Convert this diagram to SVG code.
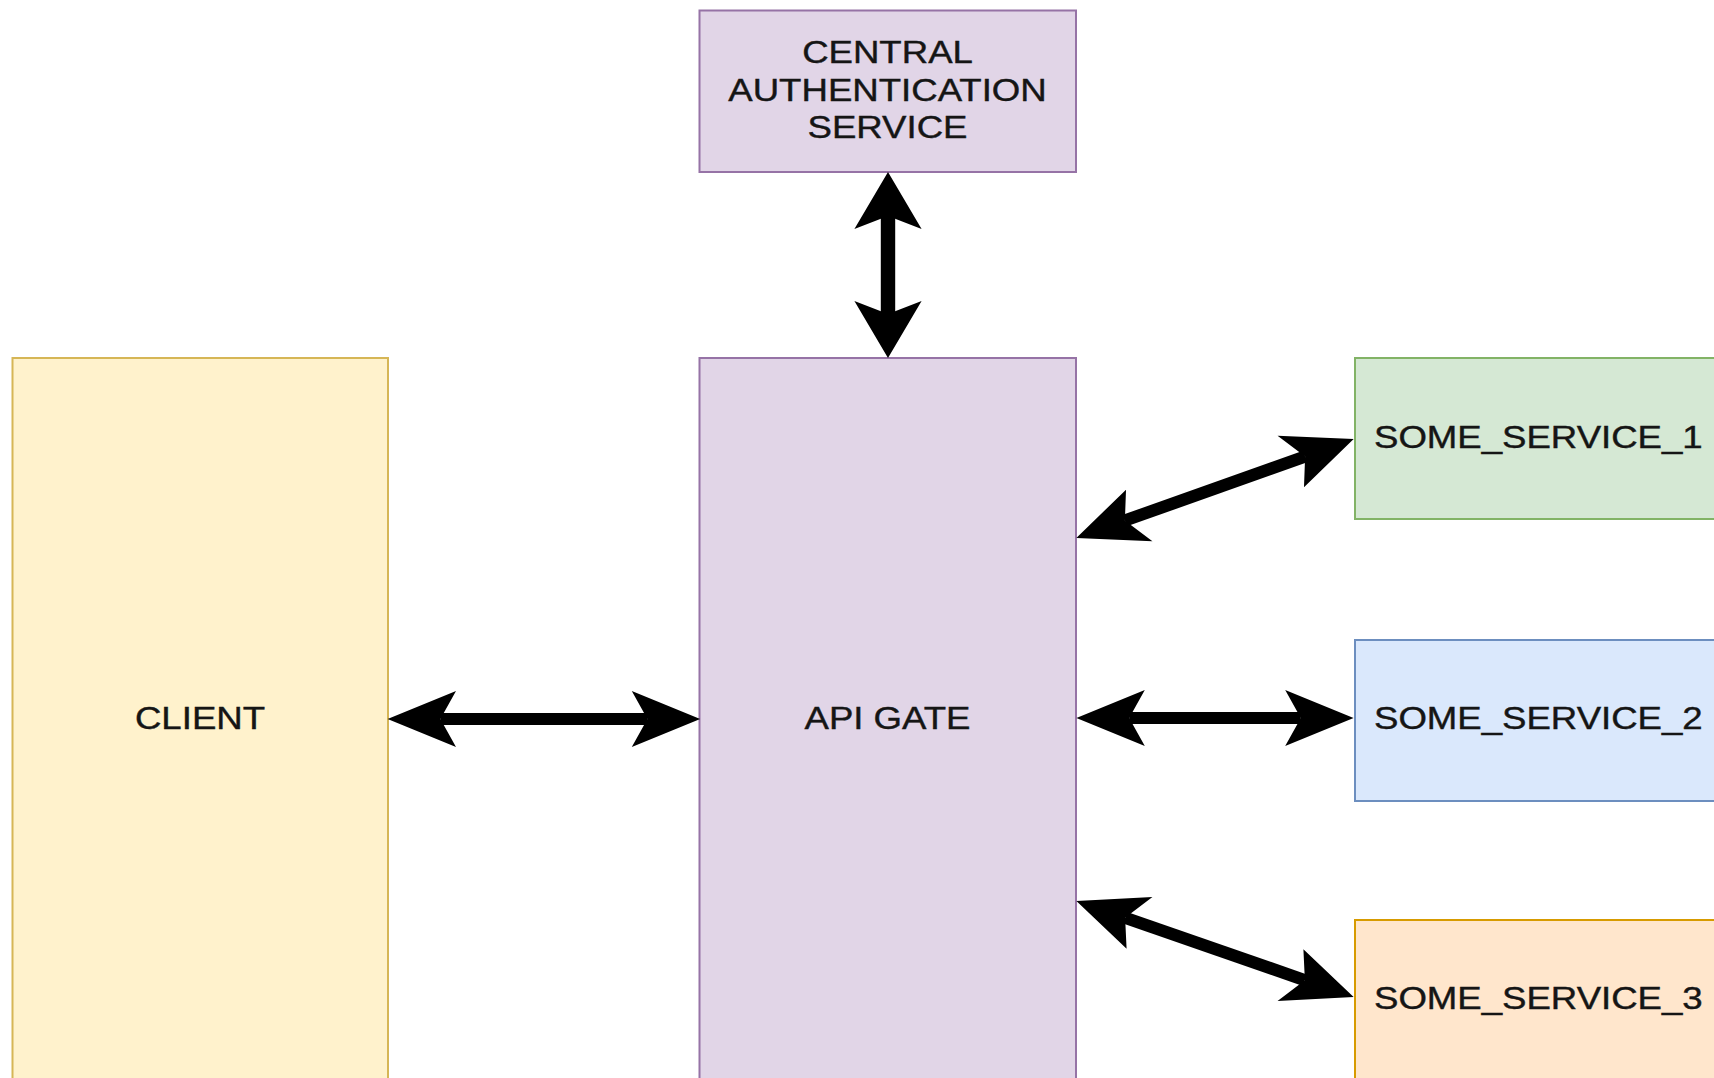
<svg xmlns="http://www.w3.org/2000/svg" width="1714" height="1078" viewBox="0 0 1714 1078">
  <style>
    .lbl { font-family: "Liberation Sans", Arial, sans-serif; font-size: 30.5px; fill: #151515; stroke: #151515; stroke-width: 0.4; }
    .mid { text-anchor: middle; }
    .box { stroke-width: 2; }
    .purple { fill: #e1d5e7; stroke: #9673a6; }
    .yellow { fill: #fff2cc; stroke: #d6b656; }
    .green { fill: #d5e8d4; stroke: #82b366; }
    .blue { fill: #dae8fc; stroke: #6c8ebf; }
    .orange { fill: #ffe6cc; stroke: #d79b00; }
    .link { fill: none; stroke: #000; stroke-width: 12; marker-start: url(#head); marker-end: url(#head); }
  </style>
  <defs>
    <!-- classic notched arrowhead, reference point at the notch -->
    <marker id="head" markerUnits="userSpaceOnUse" viewBox="0 -29 57 58" markerWidth="57" markerHeight="58" refX="13" refY="0" orient="auto-start-reverse" overflow="visible">
      <path d="M0,-28 L57,0 L0,28 L13,0 Z" fill="#000"/>
    </marker>
  </defs>
  <rect width="1714" height="1078" fill="#ffffff"/>

  <g id="cas">
    <rect class="box purple" x="699.5" y="10.5" width="376.5" height="161.5"/>
    <text class="lbl mid" transform="translate(887.5,63) scale(1.2,1)">CENTRAL</text>
    <text class="lbl mid" transform="translate(887.5,100.5) scale(1.2,1)">AUTHENTICATION</text>
    <text class="lbl mid" transform="translate(887.5,138) scale(1.2,1)">SERVICE</text>
  </g>

  <g id="api-gate">
    <rect class="box purple" x="699.5" y="358" width="376.5" height="740"/>
    <text class="lbl mid" transform="translate(887.5,729) scale(1.2,1)">API GATE</text>
  </g>

  <g id="client">
    <rect class="box yellow" x="12.5" y="358" width="375.5" height="740"/>
    <text class="lbl mid" transform="translate(200,729) scale(1.2,1)">CLIENT</text>
  </g>

  <g id="service-1">
    <rect class="box green" x="1355" y="358" width="420" height="161"/>
    <text class="lbl" transform="translate(1374,448) scale(1.2,1)">SOME_SERVICE_1</text>
  </g>

  <g id="service-2">
    <rect class="box blue" x="1355" y="640" width="420" height="161"/>
    <text class="lbl" transform="translate(1374,729) scale(1.2,1)">SOME_SERVICE_2</text>
  </g>

  <g id="service-3">
    <rect class="box orange" x="1355" y="920" width="420" height="200"/>
    <text class="lbl" transform="translate(1374,1009) scale(1.2,1)">SOME_SERVICE_3</text>
  </g>

  <!-- connectors are laid out in a 1.2x horizontally stretched space -->
  <g id="connectors" transform="scale(1.2,1)">
    <path class="link" d="M740,216 L740,314"/>
    <path class="link" d="M367,719 L539.5,719"/>
    <path class="link" d="M941,718 L1084,718"/>
    <path class="link" d="M937.4,520.6 L1087.6,456.4"/>
    <path class="link" d="M937.6,917.8 L1087.4,980.2"/>
  </g>
</svg>
